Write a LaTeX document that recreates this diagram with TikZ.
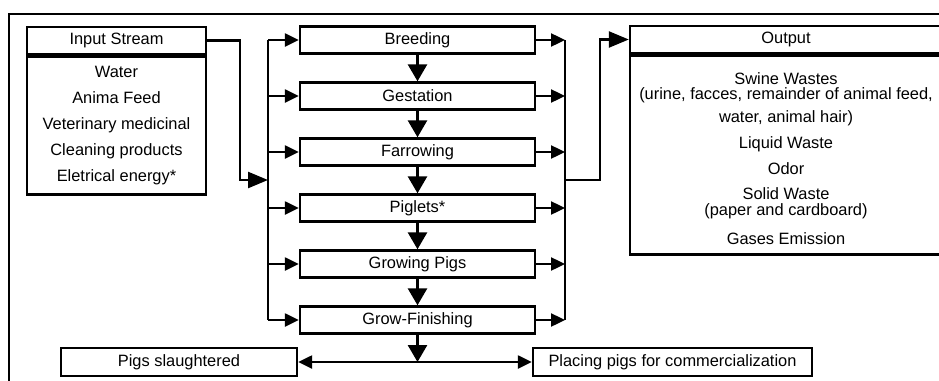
\documentclass[tikz,border=0pt]{standalone}
\usepackage{fontspec}
\setmainfont{Liberation Sans}
\usetikzlibrary{arrows.meta, positioning}
\tikzset{
    stagebox/.style={rectangle, draw, line width=2.4pt, minimum width=235pt, minimum height=27pt, inner sep=0pt, font=\fontsize{16.4}{19}\selectfont},
    listbox/.style={rectangle, draw, line width=2.4pt, inner sep=0pt, align=center, font=\fontsize{16.4}{#1}\selectfont},
    flowline/.style={line width=2.4pt},
    flowarrow/.style={-{Triangle[length=14pt, width=13pt]}, line width=2.4pt},
    bigarrow/.style={-{Triangle[length=20pt, width=16pt]}, line width=2.4pt},
    downarrow/.style={-{Triangle[length=17pt, width=19pt]}, line width=2.8pt}
}

\begin{document}
\begin{tikzpicture}[x=1pt, y=-1pt, node distance=26.6pt]

\clip (0,0) rectangle (939,380);
\useasboundingbox (0,0) rectangle (939,380);

% outer frame
\draw[flowline] (9,400) -- (9,14) -- (960,14);

% input stream
\node[listbox=19, minimum width=179pt, minimum height=27pt] (instream) at (116.5,40.5) {Input Stream};
\node[listbox=26, minimum width=179pt, minimum height=138pt, anchor=north] (inlist) at (instream.south) {Water\\Anima Feed\\Veterinary medicinal\\Cleaning products\\Eletrical energy*};

% production stages
\node[stagebox] (breed) at (417.5,40) {Breeding};
\node[stagebox, below=of breed] (gest) {Gestation};
\node[stagebox, below=of gest] (farrow) {Farrowing};
\node[stagebox, below=of farrow] (piglet) {Piglets*};
\node[stagebox, below=of piglet] (grow) {Growing Pigs};
\node[stagebox, below=of grow] (finish) {Grow-Finishing};

\draw[downarrow] (breed) -- (gest);
\draw[downarrow] (gest) -- (farrow);
\draw[downarrow] (farrow) -- (piglet);
\draw[downarrow] (piglet) -- (grow);
\draw[downarrow] (grow) -- (finish);

% output
\node[listbox=19, minimum width=312pt, minimum height=27pt] (outhead) at (786,39.5) {Output};
\node[listbox=19, minimum width=312pt, minimum height=199pt, anchor=north] (outbody) at (outhead.south) {};
\node[align=center, inner sep=0pt, font=\fontsize{16.4}{15}\selectfont] (outlist) at (786,159) {Swine Wastes\\(urine, facces, remainder of animal feed,\\[6pt]water, animal hair)\\[10pt]Liquid Waste\\[10pt]Odor\\[10pt]Solid Waste\\[1pt](paper and cardboard)\\[13pt]Gases Emission};

% buses
\coordinate (ltop) at (268,40);
\coordinate (lbot) at (268,320);
\coordinate (rtop) at (565,40);
\coordinate (rbot) at (565,320);
\draw[flowline] (ltop) -- (lbot);
\draw[flowline] (rtop) -- (rbot);
\foreach \st in {breed,gest,farrow,piglet,grow,finish}{
    \draw[flowarrow] (\st.west -| ltop) -- (\st.west);
    \draw[flowarrow] (\st.east) -- (\st.east -| rtop);
}

\coordinate (inbend) at (240,180);
\coordinate (injoin) at (268,180);
\draw[bigarrow] (instream.east) -| (inbend) -- (injoin);

\coordinate (outjoin) at (565,180);
\coordinate (outbend) at (600,180);
\draw[bigarrow] (outjoin) -- (outbend) |- (outhead.west);

% final destination
\node[stagebox, minimum width=236pt, minimum height=28pt] (slaughter) at (179,362) {Pigs slaughtered};
\node[stagebox, minimum width=279pt, minimum height=28pt] (market) at (672.5,362) {Placing pigs for commercialization};
\coordinate (split) at (417.5,362);
\draw[downarrow] (finish) -- (split);
\draw[flowarrow] (split) -- (slaughter);
\draw[flowarrow] (split) -- (market);

\end{tikzpicture}
\end{document}
